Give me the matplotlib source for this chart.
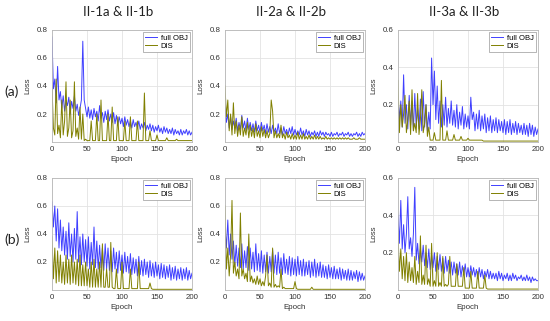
import matplotlib
matplotlib.use("Agg")
import matplotlib.pyplot as plt
import numpy as np

# loss values, one value every 2 epochs (0..200)
a1_obj = [0.75, 0.38, 0.45, 0.28, 0.54, 0.30, 0.36, 0.24, 0.33, 0.22,
          0.30, 0.26, 0.32, 0.20, 0.29, 0.24, 0.33, 0.22, 0.27, 0.19,
          0.24, 0.30, 0.72, 0.30, 0.24, 0.18, 0.25, 0.17, 0.23, 0.16,
          0.24, 0.18, 0.22, 0.15, 0.26, 0.17, 0.21, 0.14, 0.22, 0.16,
          0.23, 0.15, 0.20, 0.14, 0.21, 0.13, 0.19, 0.12, 0.18, 0.13,
          0.17, 0.11, 0.18, 0.12, 0.16, 0.11, 0.15, 0.10, 0.16, 0.11,
          0.14, 0.10, 0.15, 0.09, 0.13, 0.10, 0.14, 0.08, 0.12, 0.09,
          0.13, 0.08, 0.12, 0.07, 0.11, 0.08, 0.12, 0.07, 0.10, 0.06,
          0.11, 0.07, 0.10, 0.06, 0.09, 0.06, 0.10, 0.05, 0.09, 0.06,
          0.08, 0.05, 0.09, 0.05, 0.08, 0.06, 0.09, 0.05, 0.08, 0.05,
          0.07]
a1_dis = [0.40, 0.10, 0.05, 0.45, 0.06, 0.12, 0.03, 0.30, 0.05, 0.15,
          0.43, 0.04, 0.10, 0.30, 0.03, 0.08, 0.43, 0.04, 0.10, 0.02,
          0.25, 0.02, 0.20, 0.01, 0.02, 0.01, 0.01, 0.01, 0.15, 0.01,
          0.01, 0.01, 0.20, 0.01, 0.01, 0.30, 0.01, 0.01, 0.01, 0.01,
          0.20, 0.01, 0.01, 0.25, 0.01, 0.01, 0.01, 0.18, 0.01, 0.01,
          0.01, 0.01, 0.15, 0.01, 0.01, 0.01, 0.18, 0.01, 0.01, 0.01,
          0.01, 0.15, 0.01, 0.01, 0.01, 0.01, 0.35, 0.01, 0.01, 0.01,
          0.08, 0.01, 0.01, 0.01, 0.01, 0.05, 0.01, 0.01, 0.01, 0.01,
          0.01, 0.01, 0.03, 0.01, 0.01, 0.01, 0.01, 0.01, 0.01, 0.02,
          0.01, 0.01, 0.01, 0.01, 0.01, 0.01, 0.01, 0.01, 0.01, 0.01,
          0.01]

a2_obj = [0.25, 0.14, 0.20, 0.10, 0.18, 0.09, 0.15, 0.10, 0.17, 0.08,
          0.14, 0.09, 0.19, 0.10, 0.15, 0.08, 0.17, 0.09, 0.14, 0.08,
          0.13, 0.07, 0.15, 0.08, 0.12, 0.07, 0.14, 0.08, 0.12, 0.06,
          0.13, 0.07, 0.11, 0.06, 0.12, 0.07, 0.10, 0.06, 0.13, 0.06,
          0.10, 0.05, 0.11, 0.06, 0.09, 0.05, 0.10, 0.06, 0.11, 0.05,
          0.09, 0.05, 0.08, 0.05, 0.10, 0.05, 0.08, 0.04, 0.09, 0.05,
          0.08, 0.04, 0.07, 0.05, 0.08, 0.04, 0.07, 0.04, 0.08, 0.05,
          0.07, 0.04, 0.07, 0.05, 0.06, 0.04, 0.07, 0.04, 0.06, 0.05,
          0.07, 0.04, 0.06, 0.05, 0.07, 0.04, 0.06, 0.05, 0.07, 0.04,
          0.06, 0.04, 0.06, 0.05, 0.07, 0.04, 0.06, 0.04, 0.07, 0.05,
          0.06]
a2_dis = [0.40, 0.18, 0.30, 0.08, 0.20, 0.05, 0.28, 0.06, 0.15, 0.04,
          0.12, 0.05, 0.18, 0.04, 0.10, 0.05, 0.14, 0.03, 0.12, 0.04,
          0.10, 0.03, 0.13, 0.04, 0.08, 0.03, 0.11, 0.04, 0.09, 0.03,
          0.08, 0.03, 0.06, 0.30, 0.22, 0.03, 0.08, 0.03, 0.06, 0.03,
          0.12, 0.03, 0.06, 0.02, 0.07, 0.03, 0.05, 0.02, 0.06, 0.02,
          0.05, 0.02, 0.07, 0.02, 0.05, 0.02, 0.06, 0.02, 0.04, 0.02,
          0.05, 0.02, 0.04, 0.02, 0.05, 0.02, 0.04, 0.02, 0.04, 0.02,
          0.03, 0.02, 0.04, 0.02, 0.03, 0.02, 0.03, 0.02, 0.03, 0.02,
          0.03, 0.02, 0.03, 0.02, 0.03, 0.02, 0.03, 0.02, 0.03, 0.02,
          0.02, 0.02, 0.03, 0.02, 0.02, 0.02, 0.03, 0.02, 0.02, 0.02,
          0.02]

a3_obj = [0.25, 0.12, 0.22, 0.08, 0.36, 0.10, 0.20, 0.07, 0.25, 0.09,
          0.22, 0.06, 0.26, 0.08, 0.18, 0.07, 0.23, 0.06, 0.27, 0.08,
          0.20, 0.06, 0.16, 0.07, 0.45, 0.20, 0.38, 0.12, 0.30, 0.10,
          0.22, 0.08, 0.20, 0.09, 0.24, 0.08, 0.18, 0.10, 0.22, 0.09,
          0.17, 0.08, 0.20, 0.07, 0.16, 0.09, 0.19, 0.07, 0.15, 0.08,
          0.14, 0.07, 0.24, 0.12, 0.16, 0.06, 0.15, 0.07, 0.17, 0.06,
          0.14, 0.07, 0.15, 0.05, 0.13, 0.06, 0.14, 0.05, 0.12, 0.06,
          0.13, 0.05, 0.12, 0.06, 0.11, 0.05, 0.12, 0.04, 0.11, 0.05,
          0.12, 0.04, 0.10, 0.05, 0.11, 0.04, 0.10, 0.05, 0.09, 0.04,
          0.10, 0.04, 0.09, 0.03, 0.10, 0.04, 0.09, 0.03, 0.08, 0.04,
          0.07]
a3_dis = [0.33, 0.05, 0.20, 0.08, 0.15, 0.25, 0.05, 0.12, 0.22, 0.04,
          0.28, 0.06, 0.10, 0.05, 0.26, 0.04, 0.12, 0.28, 0.05, 0.10,
          0.20, 0.03, 0.08, 0.01, 0.01, 0.01, 0.05, 0.01, 0.01, 0.01,
          0.01, 0.33, 0.01, 0.01, 0.01, 0.06, 0.01, 0.01, 0.01, 0.01,
          0.04, 0.01, 0.01, 0.01, 0.01, 0.03, 0.01, 0.01, 0.01, 0.01,
          0.02, 0.01, 0.01, 0.01, 0.01, 0.01, 0.01, 0.01, 0.01, 0.01,
          0.01, 0.005, 0.005, 0.005, 0.005, 0.005, 0.005, 0.005, 0.005, 0.005,
          0.005, 0.005, 0.005, 0.005, 0.005, 0.005, 0.005, 0.005, 0.005, 0.005,
          0.005, 0.005, 0.005, 0.005, 0.005, 0.005, 0.005, 0.005, 0.005, 0.005,
          0.005, 0.005, 0.005, 0.005, 0.005, 0.005, 0.005, 0.005, 0.005, 0.005,
          0.005]

b1_obj = [0.63, 0.45, 0.60, 0.35, 0.58, 0.30, 0.50, 0.28, 0.45, 0.25,
          0.42, 0.22, 0.48, 0.24, 0.40, 0.20, 0.44, 0.22, 0.56, 0.20,
          0.38, 0.18, 0.40, 0.20, 0.36, 0.17, 0.38, 0.15, 0.34, 0.18,
          0.45, 0.16, 0.35, 0.15, 0.32, 0.16, 0.30, 0.14, 0.33, 0.15,
          0.30, 0.14, 0.28, 0.13, 0.30, 0.15, 0.27, 0.12, 0.28, 0.14,
          0.25, 0.12, 0.27, 0.13, 0.24, 0.12, 0.26, 0.11, 0.23, 0.12,
          0.22, 0.10, 0.24, 0.11, 0.21, 0.10, 0.22, 0.11, 0.20, 0.09,
          0.21, 0.10, 0.19, 0.09, 0.20, 0.10, 0.18, 0.08, 0.19, 0.09,
          0.18, 0.08, 0.17, 0.09, 0.18, 0.07, 0.16, 0.08, 0.17, 0.07,
          0.15, 0.08, 0.16, 0.07, 0.15, 0.08, 0.16, 0.07, 0.14, 0.08,
          0.12]
b1_dis = [0.38, 0.08, 0.30, 0.05, 0.28, 0.06, 0.25, 0.05, 0.20, 0.04,
          0.25, 0.05, 0.22, 0.04, 0.25, 0.05, 0.20, 0.04, 0.22, 0.03,
          0.25, 0.03, 0.18, 0.03, 0.20, 0.03, 0.15, 0.02, 0.20, 0.02,
          0.22, 0.02, 0.15, 0.02, 0.20, 0.02, 0.33, 0.02, 0.02, 0.15,
          0.02, 0.02, 0.34, 0.02, 0.01, 0.01, 0.15, 0.01, 0.01, 0.01,
          0.20, 0.01, 0.01, 0.01, 0.01, 0.01, 0.15, 0.01, 0.01, 0.01,
          0.01, 0.01, 0.20, 0.01, 0.01, 0.01, 0.01, 0.01, 0.01, 0.01,
          0.05, 0.01, 0.005, 0.005, 0.005, 0.005, 0.005, 0.005, 0.005, 0.005,
          0.005, 0.005, 0.005, 0.005, 0.005, 0.005, 0.005, 0.005, 0.005, 0.005,
          0.005, 0.005, 0.005, 0.005, 0.005, 0.005, 0.005, 0.005, 0.005, 0.005,
          0.005]

b2_obj = [0.45, 0.30, 0.50, 0.25, 0.40, 0.22, 0.35, 0.18, 0.32, 0.17,
          0.30, 0.16, 0.33, 0.15, 0.28, 0.16, 0.31, 0.14, 0.30, 0.15,
          0.27, 0.13, 0.33, 0.14, 0.26, 0.13, 0.28, 0.12, 0.25, 0.13,
          0.27, 0.12, 0.24, 0.13, 0.29, 0.12, 0.25, 0.11, 0.27, 0.12,
          0.23, 0.11, 0.26, 0.12, 0.22, 0.11, 0.24, 0.10, 0.23, 0.11,
          0.22, 0.10, 0.24, 0.11, 0.21, 0.10, 0.22, 0.10, 0.20, 0.11,
          0.21, 0.09, 0.20, 0.10, 0.22, 0.09, 0.19, 0.10, 0.20, 0.09,
          0.18, 0.09, 0.17, 0.08, 0.18, 0.09, 0.16, 0.08, 0.17, 0.08,
          0.15, 0.08, 0.16, 0.07, 0.15, 0.08, 0.14, 0.07, 0.15, 0.07,
          0.14, 0.07, 0.13, 0.08, 0.14, 0.06, 0.13, 0.07, 0.12, 0.07,
          0.10]
b2_dis = [0.60, 0.15, 0.30, 0.10, 0.25, 0.64, 0.12, 0.20, 0.10, 0.15,
          0.08, 0.55, 0.10, 0.15, 0.08, 0.12, 0.06, 0.40, 0.06, 0.10,
          0.05, 0.08, 0.04, 0.10, 0.04, 0.08, 0.03, 0.06, 0.03, 0.10,
          0.25, 0.03, 0.05, 0.02, 0.30, 0.02, 0.04, 0.02, 0.03, 0.02,
          0.15, 0.01, 0.02, 0.01, 0.01, 0.01, 0.01, 0.01, 0.01, 0.01,
          0.06, 0.01, 0.005, 0.005, 0.005, 0.005, 0.005, 0.005, 0.005, 0.005,
          0.005, 0.005, 0.02, 0.005, 0.005, 0.005, 0.005, 0.005, 0.005, 0.005,
          0.005, 0.005, 0.005, 0.005, 0.005, 0.005, 0.005, 0.005, 0.005, 0.005,
          0.005, 0.005, 0.005, 0.005, 0.005, 0.005, 0.005, 0.005, 0.005, 0.005,
          0.005, 0.005, 0.005, 0.005, 0.005, 0.005, 0.005, 0.005, 0.005, 0.005,
          0.005]

b3_obj = [0.40, 0.25, 0.48, 0.22, 0.35, 0.20, 0.30, 0.50, 0.22, 0.28,
          0.18, 0.30, 0.55, 0.16, 0.25, 0.14, 0.22, 0.15, 0.24, 0.13,
          0.20, 0.12, 0.22, 0.11, 0.19, 0.12, 0.20, 0.10, 0.18, 0.11,
          0.19, 0.10, 0.17, 0.09, 0.18, 0.10, 0.16, 0.09, 0.15, 0.08,
          0.15, 0.09, 0.14, 0.08, 0.15, 0.07, 0.13, 0.08, 0.14, 0.07,
          0.12, 0.07, 0.13, 0.08, 0.12, 0.07, 0.11, 0.06, 0.12, 0.07,
          0.11, 0.06, 0.10, 0.07, 0.11, 0.06, 0.10, 0.06, 0.09, 0.06,
          0.09, 0.05, 0.10, 0.06, 0.09, 0.05, 0.08, 0.06, 0.09, 0.05,
          0.08, 0.05, 0.09, 0.06, 0.08, 0.05, 0.07, 0.06, 0.08, 0.05,
          0.07, 0.05, 0.08, 0.05, 0.07, 0.04, 0.07, 0.05, 0.06, 0.05,
          0.05]
b3_dis = [0.30, 0.10, 0.22, 0.06, 0.18, 0.05, 0.20, 0.04, 0.15, 0.05,
          0.12, 0.04, 0.18, 0.03, 0.10, 0.04, 0.29, 0.03, 0.08, 0.03,
          0.24, 0.03, 0.06, 0.02, 0.25, 0.02, 0.05, 0.02, 0.20, 0.02,
          0.04, 0.02, 0.18, 0.02, 0.03, 0.02, 0.03, 0.18, 0.02, 0.02,
          0.02, 0.02, 0.14, 0.02, 0.02, 0.02, 0.02, 0.12, 0.01, 0.01,
          0.01, 0.01, 0.10, 0.01, 0.01, 0.01, 0.01, 0.10, 0.01, 0.01,
          0.01, 0.01, 0.08, 0.01, 0.005, 0.005, 0.005, 0.005, 0.005, 0.005,
          0.005, 0.005, 0.005, 0.005, 0.005, 0.005, 0.005, 0.005, 0.005, 0.005,
          0.005, 0.005, 0.005, 0.005, 0.005, 0.005, 0.005, 0.005, 0.005, 0.005,
          0.005, 0.005, 0.005, 0.005, 0.005, 0.005, 0.005, 0.005, 0.005, 0.005,
          0.005]

col_titles = ["II-1a & II-1b", "II-2a & II-2b", "II-3a & II-3b"]
row_labels = ["(a)", "(b)"]
panels = [[(a1_obj, a1_dis), (a2_obj, a2_dis), (a3_obj, a3_dis)],
          [(b1_obj, b1_dis), (b2_obj, b2_dis), (b3_obj, b3_dis)]]
ymax = [0.8, 0.8, 0.6]

W, H = 550, 321
fig = plt.figure(figsize=(W / 100, H / 100), dpi=100)
lefts = [52, 225, 398]
bottoms = [142, 290]
aw, ah = 140, 112
tick_font = "Liberation Sans"

for r in range(2):
    for c in range(3):
        ax = fig.add_axes([lefts[c] / W, 1 - bottoms[r] / H, aw / W, ah / H])
        obj, dis = panels[r][c]
        ax.plot(np.linspace(0, 200, len(obj)), obj, color="#0000ff", alpha=0.75, lw=0.7, label="full OBJ")
        ax.plot(np.linspace(0, 200, len(dis)), dis, color="#808000", lw=0.7, label="DIS")
        ax.set_xlim(0, 200)
        ax.set_ylim(0, ymax[c])
        ax.set_xticks([0, 50, 100, 150, 200])
        ax.set_yticks(np.arange(0.2, ymax[c] + 0.01, 0.2))
        ax.set_yticklabels(["%.1f" % v for v in np.arange(0.2, ymax[c] + 0.01, 0.2)])
        ax.grid(True, color="#e3e3e3", lw=0.6)
        ax.set_axisbelow(True)
        for s in ax.spines.values():
            s.set_color("#b8b8b8")
            s.set_linewidth(0.6)
        ax.tick_params(length=0, pad=3, labelsize=5.7, labelcolor="#333333")
        for lab in ax.get_xticklabels() + ax.get_yticklabels():
            lab.set_family(tick_font)
        ax.set_xlabel("Epoch", fontsize=5.7, family=tick_font, color="#333333", labelpad=2)
        ax.set_ylabel("Loss", fontsize=5.7, family=tick_font, color="#333333", labelpad=4)
        leg = ax.legend(loc="upper right", prop={"family": tick_font, "size": 5.5},
                        handlelength=1.6, handletextpad=0.4, borderpad=0.3,
                        labelspacing=0.1, fancybox=False, framealpha=1,
                        borderaxespad=0.3)
        leg.get_frame().set_edgecolor("#999999")
        leg.get_frame().set_linewidth(0.5)

for c in range(3):
    fig.text((lefts[c] + aw / 2 - 4) / W, 1 - 12 / H, col_titles[c], ha="center", va="center",
             fontsize=9.5, family="Lato", color="#222222")
for r in range(2):
    fig.text(12 / W, 1 - [92, 240][r] / H, row_labels[r], ha="center", va="center",
             fontsize=10, family="Lato", color="#222222")

fig.savefig("out.png", dpi=100)
